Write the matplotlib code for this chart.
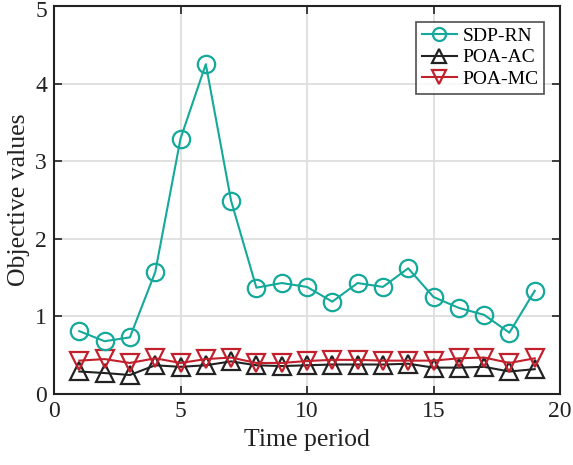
import matplotlib
matplotlib.use("Agg")
import matplotlib.pyplot as plt
from matplotlib.transforms import ScaledTranslation

t = list(range(1, 20))
sdp_rn = [0.81, 0.68, 0.73, 1.57, 3.29, 4.25, 2.49, 1.37, 1.43, 1.38, 1.19, 1.43, 1.38, 1.62, 1.25, 1.11, 1.02, 0.79, 1.33]
poa_ac = [0.29, 0.27, 0.245, 0.37, 0.35, 0.37, 0.42, 0.37, 0.36, 0.37, 0.38, 0.38, 0.38, 0.39, 0.34, 0.34, 0.35, 0.29, 0.32]
poa_mc = [0.43, 0.45, 0.40, 0.46, 0.40, 0.45, 0.47, 0.40, 0.40, 0.425, 0.44, 0.44, 0.43, 0.43, 0.43, 0.46, 0.47, 0.40, 0.46]
xticks = [0, 5, 10, 15, 20]
yticks = [0, 1, 2, 3, 4, 5]

plt.rcParams['font.family'] = ['Liberation Serif', 'DejaVu Serif']

fig = plt.figure(figsize=(5.73, 4.65), dpi=100)
ax = fig.add_axes([54/573, 1-394/465, (560-54)/573, (394-6)/465])

teal = '#14A99A'
blk = '#222222'
red = '#C2202C'
ax.plot(t, sdp_rn, '-o', color=teal, lw=1.5, ms=12.5, mfc='none', mew=1.6, label='SDP-RN', zorder=5)
ax.plot(t, poa_ac, '-^', color=blk, lw=1.5, ms=12.5, mfc='none', mew=1.6, label='POA-AC', zorder=4)
ax.plot(t, poa_mc, '-v', color=red, lw=1.5, ms=12.5, mfc='none', mew=1.6, label='POA-MC', zorder=4)

ax.set_xlim(0, 20)
ax.set_ylim(0, 5)
ax.set_xticks(xticks)
ax.set_yticks(yticks)
ax.grid(True, color='#dedede', lw=1.3)
ax.set_axisbelow(True)
ax.tick_params(direction='in', length=6, width=1.2, labelsize=17, colors='#222222', top=True, right=True, pad=5)
for s in ax.spines.values():
    s.set_linewidth(1.5)
    s.set_color('#222222')
ax.set_xlabel('Time period', fontsize=18.5, color='#222222', labelpad=5)
ax.set_ylabel('Objective values', fontsize=18.5, color='#222222', labelpad=4)

# MATLAB nudges the topmost tick label inside the figure
top_lab = ax.get_yticklabels()[-1]
top_lab.set_transform(top_lab.get_transform() + ScaledTranslation(0, -3.5/100, fig.dpi_scale_trans))

leg = ax.legend(loc='upper right', fontsize=14, frameon=True, fancybox=False, edgecolor='#222222',
                handlelength=1.8, borderpad=0.3, labelspacing=0.2, handletextpad=0.3,
                borderaxespad=0.8, markerscale=0.75)
leg.get_frame().set_linewidth(1.2)
fig.savefig('out.png', dpi=100)
